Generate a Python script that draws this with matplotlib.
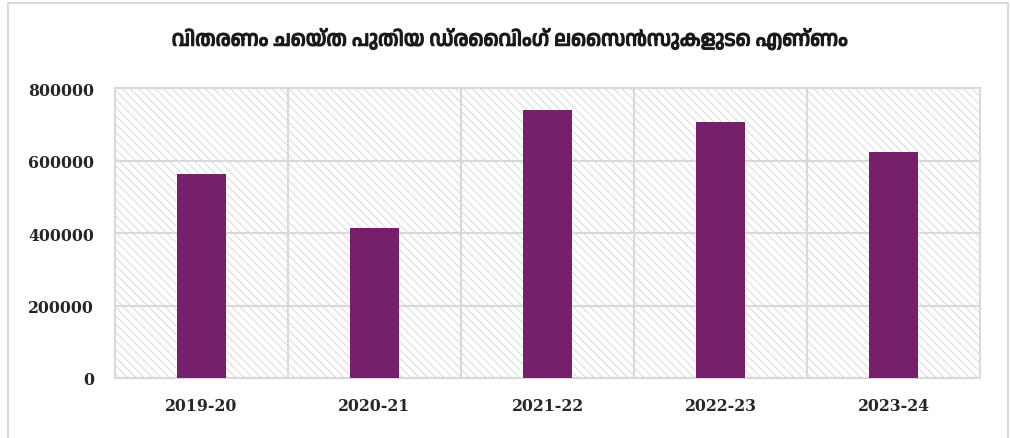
import matplotlib
matplotlib.use("Agg")
import matplotlib.pyplot as plt
import matplotlib.patheffects as pe
from matplotlib import font_manager
from matplotlib.patches import Rectangle
from matplotlib.ft2font import FT2Font

categories = ["2019-20", "2020-21", "2021-22", "2022-23", "2023-24"]
licences = [563000, 414000, 740000, 707000, 623000]
y_ticks = [0, 200000, 400000, 600000, 800000]
title = "വിതരണം ചെയ്ത പുതിയ ഡ്രൈവിംഗ് ലൈസൻസുകളുടെ എണ്ണം"

GRID = "#d9d9d9"
BAR = "#76206b"


def malayalam_family():
    # look for any installed font that covers the Malayalam block
    for path in sorted(font_manager.findSystemFonts()):
        if "Malayalam" not in path:
            continue
        try:
            if 0x0D35 in FT2Font(path).get_charmap():
                font_manager.fontManager.addfont(path)
                return font_manager.FontProperties(fname=path).get_name()
        except Exception:
            continue
    return "DejaVu Sans"


ml_family = malayalam_family()

plt.rcParams["hatch.linewidth"] = 0.6
plt.rcParams["hatch.color"] = "#cfcfcf"

fig = plt.figure(figsize=(10.10, 4.39), dpi=100)

# outer chart border (runs off the bottom edge like the reference)
fig.patches.append(
    Rectangle((0.0079, -0.05), 0.99, 1.041, transform=fig.transFigure,
              fill=False, edgecolor=GRID, linewidth=1.5)
)

ax = fig.add_axes([0.1139, 0.1367, 0.8564, 0.66])
ax.add_patch(
    Rectangle((0, 0), 1, 1, transform=ax.transAxes, facecolor="white",
              edgecolor="#d4d4d4", hatch="\\\\\\\\", linewidth=0, zorder=0)
)

xs = list(range(len(categories)))
ax.bar(xs, licences, width=0.28, color=BAR, zorder=3)

ax.set_xlim(-0.5, len(categories) - 0.5)
ax.set_ylim(0, 800000)
ax.set_yticks(y_ticks)
ax.set_yticklabels([str(v) for v in y_ticks])
ax.set_xticks(xs)
ax.set_xticklabels(categories)
ax.set_xticks([x - 0.5 for x in xs[1:]], minor=True)

ax.grid(axis="y", which="major", color=GRID, linewidth=1.5, zorder=1)
ax.grid(axis="x", which="minor", color=GRID, linewidth=1.5, zorder=1)
ax.set_axisbelow(True)
for spine in ax.spines.values():
    spine.set_color(GRID)
    spine.set_linewidth(1.5)

ax.tick_params(axis="both", which="both", length=0)
ax.tick_params(axis="y", pad=15)
ax.tick_params(axis="x", pad=14)
for label in ax.get_xticklabels() + ax.get_yticklabels():
    label.set_fontfamily("DejaVu Serif")
    label.set_fontweight("bold")
    label.set_fontsize(11.3)
    label.set_color("#262626")

fig.text(0.505, 0.909, title, ha="center", va="center", fontsize=15,
         family=[ml_family, "DejaVu Sans"], color="#1a1a1a",
         path_effects=[pe.withStroke(linewidth=0.9, foreground="#1a1a1a")])

fig.savefig("out.png", dpi=100)
